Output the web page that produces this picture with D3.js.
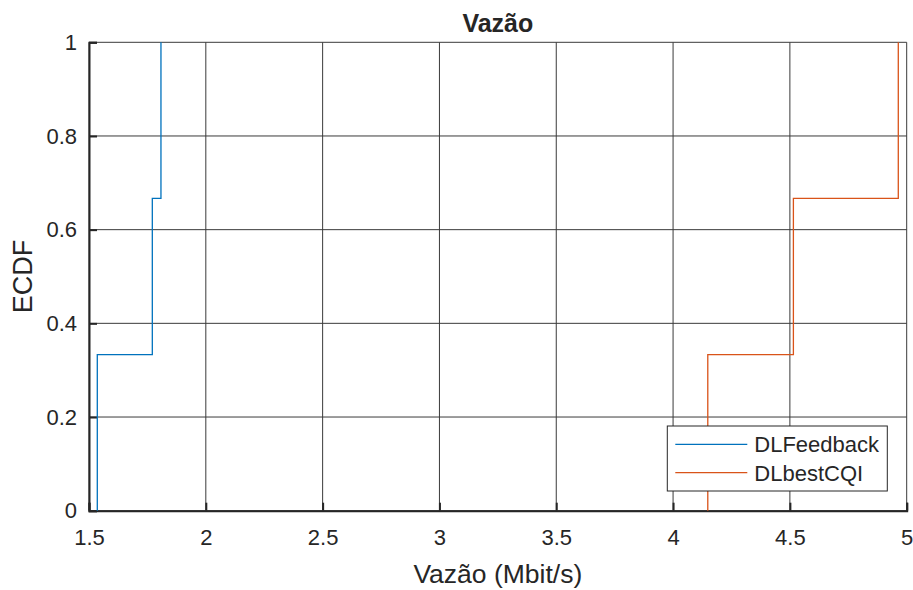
<!DOCTYPE html>
<html>
<head>
<meta charset="utf-8">
<script src="https://cdn.jsdelivr.net/npm/d3@7"></script>
<style>
  body { margin: 0; background: #fff; }
  text { font-family: "Liberation Sans", Arial, sans-serif; fill: #262626; }
</style>
</head>
<body>
<script>
// ECDF of throughput for two schedulers
var seriesNames = ['DLFeedback', 'DLbestCQI'];
var seriesColors = ['#0072BD', '#D95319'];
var feedbackX = [1.5355, 1.771, 1.808];
var bestCqiX = [4.1486, 4.515, 4.964];
var ecdfY = [0, 1/3, 2/3, 1];
var xTicks = [1.5, 2, 2.5, 3, 3.5, 4, 4.5, 5];
var yTicks = [0, 0.2, 0.4, 0.6, 0.8, 1];

var width = 913, height = 590;
var margin = {left: 89, right: 6.3, top: 42.3, bottom: 79.3};

var svg = d3.select('body').append('svg')
	.attr('width', width)
	.attr('height', height);

var xScale = d3.scaleLinear()
	.domain([1.5, 5])
	.range([margin.left, width - margin.right]);
var yScale = d3.scaleLinear()
	.domain([0, 1])
	.range([height - margin.bottom, margin.top]);

// grid
svg.append('g')
	.selectAll('line')
	.data(xTicks)
	.enter().append('line')
	.attr('x1', d => xScale(d)).attr('x2', d => xScale(d))
	.attr('y1', yScale(0)).attr('y2', yScale(1))
	.attr('stroke', '#3a3a3a').attr('stroke-width', 1);
svg.append('g')
	.selectAll('line')
	.data(yTicks)
	.enter().append('line')
	.attr('y1', d => yScale(d)).attr('y2', d => yScale(d))
	.attr('x1', xScale(1.5)).attr('x2', xScale(5))
	.attr('stroke', '#3a3a3a').attr('stroke-width', 1);

// axes
var xAxis = svg.append('g')
	.attr('transform', 'translate(0,' + yScale(0) + ')')
	.call(d3.axisBottom(xScale).tickValues(xTicks).tickSize(-8).tickPadding(27)
		.tickFormat(d3.format('')));
var yAxis = svg.append('g')
	.attr('transform', 'translate(' + xScale(1.5) + ',0)')
	.call(d3.axisLeft(yScale).tickValues(yTicks).tickSize(-8).tickPadding(12)
		.tickFormat(d3.format('')));
[xAxis, yAxis].forEach(function(ax) {
	ax.select('.domain').attr('stroke', '#262626').attr('stroke-width', 2);
	ax.selectAll('.tick line').attr('stroke', '#262626').attr('stroke-width', 2);
	ax.selectAll('.tick text')
		.style('font-family', '"Liberation Sans", Arial, sans-serif')
		.style('font-size', '22px')
		.attr('fill', '#262626');
});
xAxis.selectAll('.tick text').attr('dy', '0.35em');

// ECDF stairs
function stairs(xs) {
	var pts = [[xs[0], ecdfY[0]]];
	xs.forEach(function(x, i) {
		pts.push([x, ecdfY[i]]);
		pts.push([x, ecdfY[i + 1]]);
		if (i + 1 < xs.length) pts.push([xs[i + 1], ecdfY[i + 1]]);
	});
	return pts;
}
var line = d3.line()
	.x(d => xScale(d[0]))
	.y(d => yScale(d[1]));
[feedbackX, bestCqiX].forEach(function(xs, i) {
	svg.append('path')
		.attr('d', line(stairs(xs)))
		.attr('fill', 'none')
		.attr('stroke', seriesColors[i])
		.attr('stroke-width', 1.3);
});

// title and labels
svg.append('text')
	.attr('x', (xScale(1.5) + xScale(5)) / 2)
	.attr('y', 32)
	.attr('text-anchor', 'middle')
	.style('font-size', '25px')
	.style('font-weight', 'bold')
	.attr('fill', '#000')
	.text('Vazão');
svg.append('text')
	.attr('x', (xScale(1.5) + xScale(5)) / 2)
	.attr('y', 583)
	.attr('text-anchor', 'middle')
	.style('font-size', '26.5px')
	.text('Vazão (Mbit/s)');
svg.append('text')
	.attr('transform', 'translate(32,' + yScale(0.5) + ') rotate(-90)')
	.attr('text-anchor', 'middle')
	.style('font-size', '27px')
	.text('ECDF');

// legend
var legend = svg.append('g').attr('transform', 'translate(667.3,426)');
legend.append('rect')
	.attr('width', 220).attr('height', 65)
	.attr('fill', '#fff').attr('stroke', '#262626').attr('stroke-width', 1);
seriesNames.forEach(function(name, i) {
	var y = 18.3 + i * 28.4;
	legend.append('line')
		.attr('x1', 8).attr('x2', 80).attr('y1', y).attr('y2', y)
		.attr('stroke', seriesColors[i]).attr('stroke-width', 1.3);
	legend.append('text')
		.attr('x', 87).attr('y', y).attr('dy', '0.36em')
		.style('font-size', '22px')
		.attr('fill', '#000')
		.text(name);
});
</script>
</body>
</html>
